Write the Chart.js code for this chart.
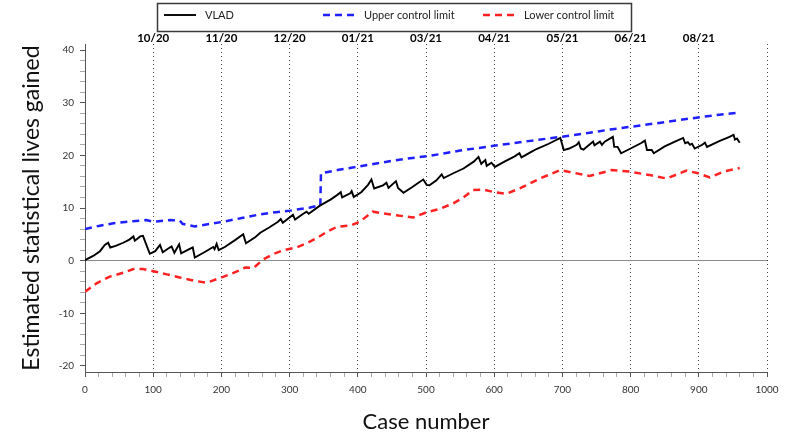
<!DOCTYPE html>
<html>
<head>
<meta charset="utf-8">
<script src="https://cdn.jsdelivr.net/npm/chart.js@4.4.0/dist/chart.umd.min.js"></script>
<style>
  html, body { margin: 0; padding: 0; background: #fff; }
  #wrap { width: 789px; height: 435px; }
</style>
</head>
<body>
<div id="wrap"><canvas id="c" width="789" height="435"></canvas></div>
<script>
// VLAD curve: cumulative statistical lives gained by case number
const vladCases = [0,12,22,29,34,37,45,56,65,71,73,81,85,90,95,103,110,114,121,127,131,138,141,150,158,161,175,188,190,193,196,205,220,232,236,250,257,270,283,287,290,305,308,320,325,328,345,360,369,375,377,389,391,394,405,415,420,424,437,442,445,456,459,467,480,490,496,501,505,515,523,526,540,555,570,577,581,587,589,596,601,615,630,637,640,655,662,680,697,702,710,721,724,727,731,745,747,755,758,762,774,776,781,786,800,815,821,824,831,834,850,865,877,880,884,887,890,894,905,909,912,930,945,951,953,956,960];
const vladValues = [0.1,0.9,1.8,3.0,3.4,2.5,2.8,3.4,4.0,4.6,3.8,4.6,4.7,3.0,1.3,1.8,3.0,1.6,2.2,2.7,1.5,3.1,1.4,2.0,2.5,0.6,1.6,2.6,2.2,3.2,2.0,2.6,3.9,5.0,3.3,4.5,5.3,6.3,7.4,7.9,7.2,8.7,7.8,8.9,9.3,8.9,10.5,11.6,12.4,13.0,12.0,12.8,13.2,12.1,13.0,14.4,15.4,13.7,14.3,14.8,13.8,15.1,13.8,12.9,14.0,14.9,15.4,14.4,14.3,15.2,16.4,15.7,16.6,17.5,18.8,19.7,18.4,19.1,18.0,18.6,17.8,18.8,19.8,20.4,19.6,20.7,21.2,22.2,23.3,21.0,21.3,22.0,22.5,21.3,21.1,22.6,21.9,22.6,22.0,22.6,23.5,21.6,21.6,20.4,21.3,22.3,22.8,21.0,21.0,20.4,21.7,22.6,23.3,22.3,22.5,22.0,22.2,21.3,22.0,22.4,21.6,22.7,23.5,23.9,23.0,23.2,22.4];

// Upper control limit
const uclCases = [0,20,42,70,90,100,125,139,143,161,180,203,230,257,280,301,330,345,346,370,398,425,452,480,506,550,599,650,697,740,770,799,850,899,930,957];
const uclValues = [6.0,6.6,7.1,7.5,7.7,7.4,7.7,7.6,7.0,6.5,6.9,7.4,8.1,8.8,9.2,9.5,10.1,10.5,16.6,17.2,17.8,18.4,19.0,19.5,19.9,20.9,21.8,22.7,23.5,24.3,24.9,25.4,26.3,27.2,27.7,28.1];

// Lower control limit
const lclCases = [0,17,37,56,71,85,100,120,139,160,178,198,222,235,247,261,275,291,310,325,340,355,369,390,403,422,452,481,501,520,540,555,569,584,600,618,635,648,667,697,716,740,755,772,799,830,853,870,882,899,916,936,960];
const lclValues = [-5.9,-4.3,-3.0,-2.3,-1.6,-1.6,-2.0,-2.6,-3.2,-3.8,-4.2,-3.3,-2.1,-1.3,-1.4,0.2,1.2,2.0,2.5,3.3,4.3,5.5,6.4,6.7,7.4,9.3,8.7,8.2,9.2,9.8,10.9,12.0,13.4,13.5,13.0,12.7,13.6,14.4,15.6,17.2,16.7,16.1,16.6,17.2,16.9,16.2,15.6,16.5,17.1,16.6,15.8,16.9,17.6];

// Month boundaries (case number where each month starts)
const monthCases = [100,200,300,400,500,600,700,800,900,1000];
const monthLabels = ['10/20','11/20','12/20','01/21','03/21','04/21','05/21','06/21','08/21',''];

// Axis tick values
const xTicks = [0,100,200,300,400,500,600,700,800,900,1000];
const yTicks = [-20,-10,0,10,20,30,40];

const FONT = 'Lato';
const toPoints = (xs, ys) => xs.map((x, i) => ({ x: x, y: ys[i] }));

// minor tick positions between the labelled ones
function withMinor(major, parts) {
  const out = [];
  for (let i = 0; i < major.length; i++) {
    out.push(major[i]);
    if (i < major.length - 1) {
      const step = (major[i + 1] - major[i]) / parts;
      for (let k = 1; k < parts; k++) out.push(major[i] + step * k);
    }
  }
  return out;
}
const xAll = withMinor(xTicks, 5);
const yAll = withMinor(yTicks, 5);

// Boxed legend across the top, drawn from the dataset styles
const boxedLegend = {
  id: 'boxedLegend',
  afterDraw(chart) {
    const ctx = chart.ctx;
    ctx.save();
    ctx.setLineDash([]);
    ctx.strokeStyle = '#3a3a3a';
    ctx.lineWidth = 1.5;
    ctx.strokeRect(157.5, 3.5, 474, 28);
    const starts = [164, 323, 483];
    chart.data.datasets.forEach((ds, i) => {
      const x0 = starts[i], y = 15;
      ctx.beginPath();
      ctx.setLineDash(ds.borderDash || []);
      ctx.strokeStyle = ds.borderColor;
      ctx.lineWidth = ds.borderWidth;
      ctx.moveTo(x0, y);
      ctx.lineTo(x0 + 32, y);
      ctx.stroke();
      ctx.setLineDash([]);
      ctx.fillStyle = '#222';
      ctx.font = '11px ' + FONT;
      ctx.textBaseline = 'middle';
      ctx.textAlign = 'left';
      ctx.fillText(ds.label, x0 + 41, y + 0.5);
    });
    ctx.restore();
  }
};

new Chart(document.getElementById('c'), {
  type: 'line',
  data: {
    datasets: [
      { label: 'VLAD', data: toPoints(vladCases, vladValues), borderColor: '#000000', borderWidth: 1.9, pointRadius: 0, tension: 0, xAxisID: 'x', yAxisID: 'y' },
      { label: 'Upper control limit', data: toPoints(uclCases, uclValues), borderColor: '#1f1fff', borderWidth: 2.5, borderDash: [7, 5], pointRadius: 0, tension: 0, xAxisID: 'x', yAxisID: 'y' },
      { label: 'Lower control limit', data: toPoints(lclCases, lclValues), borderColor: '#ff2222', borderWidth: 2.5, borderDash: [7, 5], pointRadius: 0, tension: 0, xAxisID: 'x', yAxisID: 'y' }
    ]
  },
  options: {
    responsive: false,
    animation: false,
    devicePixelRatio: 1,
    layout: { padding: { left: 0, right: 22, top: 0, bottom: 0 } },
    plugins: { legend: { display: false }, tooltip: { enabled: false } },
    scales: {
      x: {
        type: 'linear', position: 'bottom', min: 0, max: 1000,
        afterBuildTicks: s => { s.ticks = xAll.map(v => ({ value: v })); },
        afterFit: s => { s.height = 63; },
        ticks: {
          autoSkip: false, maxRotation: 0, padding: 7,
          font: { family: FONT, size: 10 }, color: '#333',
          callback: v => (xTicks.includes(v) ? String(v) : '')
        },
        grid: {
          drawOnChartArea: false, tickLength: 5,
          color: c => (c.tick && xTicks.includes(c.tick.value) ? '#555' : '#aaa')
        },
        border: { color: '#555', width: 1 },
        title: { display: true, text: 'Case number', font: { family: FONT, size: 22 }, color: '#111', padding: { top: 0, bottom: 0 } }
      },
      months: {
        type: 'linear', position: 'top', min: 0, max: 1000,
        afterBuildTicks: s => { s.ticks = monthCases.map(v => ({ value: v })); },
        afterFit: s => { s.height = 44; },
        ticks: {
          autoSkip: false, maxRotation: 0, padding: -1,
          font: { family: FONT, size: 11.5, weight: 'bold' }, color: '#000',
          callback: (v, i) => monthLabels[i]
        },
        grid: { drawOnChartArea: true, drawTicks: false, color: '#444', lineWidth: 1 },
        border: { display: false, dash: [1, 3] }
      },
      y: {
        type: 'linear', position: 'left', min: -21.14, max: 41.14,
        afterBuildTicks: s => { s.ticks = yAll.map(v => ({ value: v })); },
        afterFit: s => { s.width = 85; },
        ticks: {
          autoSkip: false, padding: 6,
          font: { family: FONT, size: 10 }, color: '#333',
          callback: v => (yTicks.includes(v) ? String(v) : '')
        },
        grid: {
          drawOnChartArea: true, tickLength: 5,
          color: c => (c.tick && c.tick.value === 0 ? '#8a8a8a' : 'rgba(0,0,0,0)'),
          tickColor: c => (c.tick && yTicks.includes(c.tick.value) ? '#555' : '#aaa')
        },
        border: { color: '#555', width: 1 },
        title: { display: true, text: 'Estimated statistical lives gained', font: { family: FONT, size: 23 }, color: '#111', padding: { top: 18, bottom: 0 } }
      }
    }
  },
  plugins: [boxedLegend]
});
</script>
</body>
</html>
